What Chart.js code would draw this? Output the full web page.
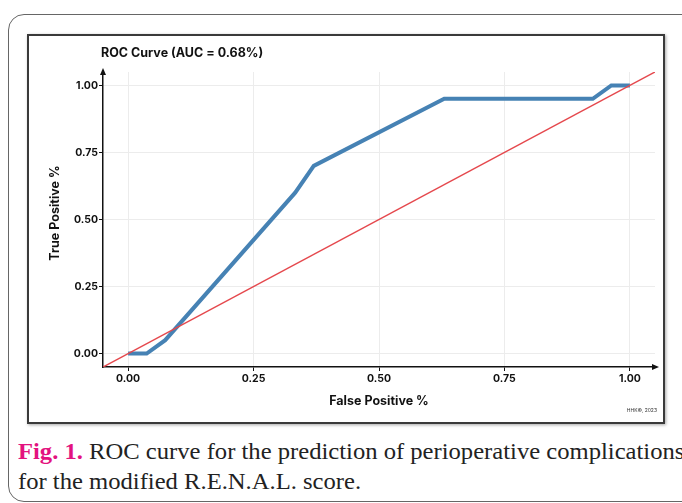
<!DOCTYPE html>
<html><head><meta charset="utf-8">
<script src="https://cdn.jsdelivr.net/npm/chart.js@4.4.1/dist/chart.umd.min.js"></script>
<style>
html,body{margin:0;padding:0;background:#fff;width:682px;height:503px;overflow:hidden;}
#outer{position:absolute;left:8px;top:14px;width:700px;height:486px;border:1px solid #666;border-radius:16px;}
#inner{position:absolute;left:27px;top:34px;width:634px;height:386px;border:2px solid #3a3a3a;box-shadow:1px 1px 3px rgba(0,0,0,0.35);background:#fff;}
#cv{position:absolute;left:0;top:0;}
#cap{position:absolute;left:18px;top:437px;font-family:"Liberation Serif","Times New Roman",serif;font-size:23px;line-height:30px;color:#222;white-space:nowrap;transform:scaleX(1.07);transform-origin:0 0;}
#cap b{color:#e3137f;}
</style></head><body>
<div id="outer"></div>
<div id="inner"><canvas id="cv" width="634" height="386"></canvas></div>
<div id="cap"><b>Fig. 1.</b> ROC curve for the prediction of perioperative complications<br>for the modified R.E.N.A.L. score.</div>
<script>
const fpr = [0, 0.037, 0.074, 0.333, 0.37, 0.63, 0.926, 0.963, 1];
const tpr = [0, 0, 0.05, 0.6, 0.7, 0.95, 0.95, 1, 1];
const refX = [-0.05, 1.05];
const refY = [-0.05, 1.05];
const tickVals = [0, 0.25, 0.5, 0.75, 1];
const titleText = "ROC Curve (AUC = 0.68%)";
const xTitle = "False Positive %";
const yTitle = "True Positive %";
const credit = "HHK©, 2023";

const FONT = "Inter, 'Liberation Sans', sans-serif";

const deco = {
  id: 'deco',
  afterDraw(chart) {
    const {ctx, chartArea: a} = chart;
    ctx.save();
    ctx.fillStyle = '#111';
    // y arrow
    ctx.beginPath();
    ctx.moveTo(a.left, a.top - 4);
    ctx.lineTo(a.left - 3, a.top + 3);
    ctx.lineTo(a.left + 3, a.top + 3);
    ctx.closePath(); ctx.fill();
    // x arrow
    ctx.beginPath();
    ctx.moveTo(a.right + 4, a.bottom);
    ctx.lineTo(a.right - 3, a.bottom - 3);
    ctx.lineTo(a.right - 3, a.bottom + 3);
    ctx.closePath(); ctx.fill();
    ctx.font = "bold 12.5px " + FONT;
    ctx.textBaseline = 'middle';
    ctx.textAlign = 'left';
    ctx.fillText(titleText, 72, 17);
    // y axis title
    ctx.save();
    ctx.translate(26, 177);
    ctx.rotate(-Math.PI / 2);
    ctx.textAlign = 'center';
    ctx.font = "bold 12.5px " + FONT;
    ctx.fillText(yTitle, 0, 0);
    ctx.restore();
    ctx.font = "5px " + FONT;
    ctx.textAlign = 'right';
    ctx.fillStyle = '#333';
    ctx.fillText(credit, 628, 374);
    ctx.restore();
  }
};

const setTicks = s => { s.ticks = tickVals.map(v => ({value: v})); };

new Chart(document.getElementById('cv'), {
  type: 'scatter',
  data: {
    datasets: [
      {data: fpr.map((x, i) => ({x, y: tpr[i]})), showLine: true, borderColor: '#4682b4', borderWidth: 4, pointRadius: 0, tension: 0, borderJoinStyle: 'miter', order: 2},
      {data: refX.map((x, i) => ({x, y: refY[i]})), showLine: true, borderColor: '#e5484d', borderWidth: 1.5, pointRadius: 0, order: 1}
    ]
  },
  options: {
    responsive: false, animation: false,
    layout: {padding: {left: 0, top: 36, right: 8, bottom: 0}},
    plugins: {legend: {display: false}, tooltip: {enabled: false}},
    scales: {
      x: {
        type: 'linear', min: -0.05, max: 1.05,
        afterBuildTicks: setTicks,
        afterFit: s => { s.height = 55; },
        grid: {color: '#ececec', lineWidth: 1, tickColor: '#111', tickLength: 4, drawTicks: true},
        border: {color: '#111', width: 1.5},
        ticks: {color: '#111', padding: 2, font: {family: FONT, size: 10.5, weight: 'bold'}, callback: v => v.toFixed(2), maxRotation: 0},
        title: {display: true, text: xTitle, color: '#111', font: {family: FONT, size: 12.5, weight: 'bold'}, padding: {top: 0, bottom: 13}}
      },
      y: {
        type: 'linear', min: -0.05, max: 1.05,
        afterBuildTicks: setTicks,
        afterFit: s => { s.width = 74; },
        grid: {color: '#ececec', lineWidth: 1, tickColor: '#111', tickLength: 4, drawTicks: true},
        border: {color: '#111', width: 1.5},
        ticks: {color: '#111', padding: 1, font: {family: FONT, size: 10.5, weight: 'bold'}, callback: v => v.toFixed(2)},
        title: {display: false}
      }
    }
  },
  plugins: [deco]
});
</script>
</body></html>
